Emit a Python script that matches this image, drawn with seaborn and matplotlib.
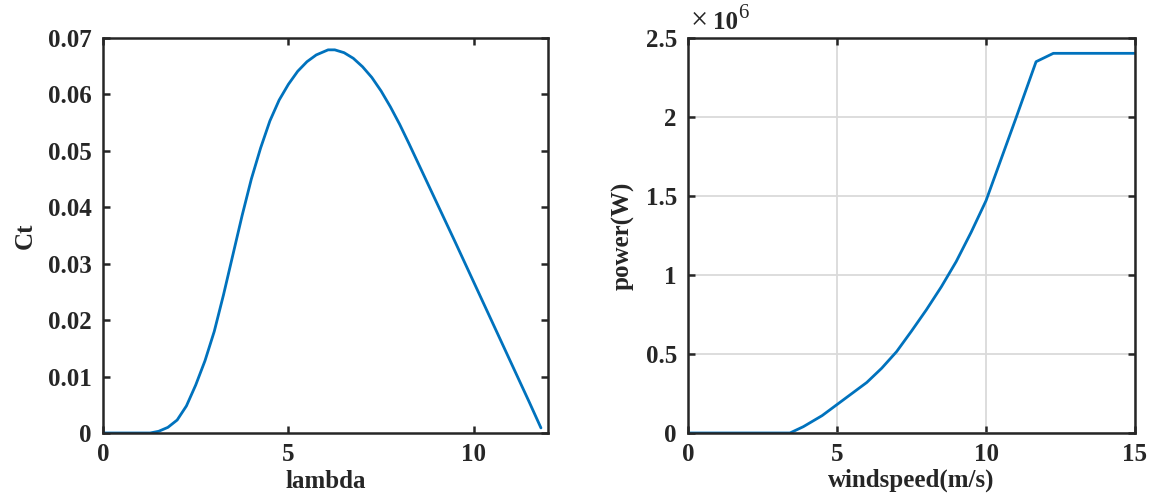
import matplotlib
matplotlib.use("Agg")
import matplotlib.pyplot as plt
import seaborn as sns
import pandas as pd
from matplotlib.ticker import FuncFormatter

# ---- data ----
lam = [0.0, 0.5, 1.0, 1.27, 1.5, 1.75, 2.0, 2.25, 2.5, 2.75, 3.0, 3.25, 3.5, 3.75,
       4.0, 4.25, 4.5, 4.75, 5.0, 5.25, 5.5, 5.75, 6.07, 6.25, 6.5, 6.75, 7.0, 7.25,
       7.5, 7.75, 8.0, 8.25, 8.5, 8.75, 9.0, 9.25, 9.5, 10.0, 10.5, 11.0, 11.5, 11.81]
ct = [0.0, 0.0, 0.0, 0.0, 0.0003, 0.0010, 0.0023, 0.0048, 0.0085, 0.0128, 0.0180,
      0.0245, 0.0315, 0.0385, 0.0450, 0.0505, 0.0553, 0.0590, 0.0618, 0.0641, 0.0658,
      0.0670, 0.0679, 0.0679, 0.0674, 0.0664, 0.0649, 0.0630, 0.0606, 0.0578, 0.0547,
      0.0513, 0.0478, 0.0443, 0.0408, 0.0373, 0.0338, 0.0267, 0.0196, 0.0125, 0.0054,
      0.0009]

windspeed = [0, 1, 2, 3, 3.42, 3.87, 4.5, 5, 5.5, 6, 6.5, 7, 7.5, 8, 8.5, 9, 9.5, 10,
             11, 11.68, 12.26, 13, 14, 15]
power = [0, 0, 0, 0, 0, 0.040e6, 0.11e6, 0.18e6, 0.25e6, 0.32e6, 0.41e6, 0.515e6,
         0.645e6, 0.78e6, 0.925e6, 1.085e6, 1.27e6, 1.47e6,
         1.99e6, 2.35e6, 2.403e6, 2.403e6, 2.403e6, 2.403e6]

left_xticks = [0, 5, 10]
left_yticks = [0, 0.01, 0.02, 0.03, 0.04, 0.05, 0.06, 0.07]
right_xticks = [0, 5, 10, 15]
right_yticks = [0, 0.5e6, 1.0e6, 1.5e6, 2.0e6, 2.5e6]

sns.set_theme(style="ticks")
plt.rcParams['font.family'] = ['Liberation Serif', 'DejaVu Serif']
plt.rcParams['font.weight'] = 'bold'

W, H = 1157, 497
fig = plt.figure(figsize=(W / 100, H / 100), dpi=100)
ax1 = fig.add_axes([103 / W, (H - 433) / H, 445 / W, 395 / H])
ax2 = fig.add_axes([688 / W, (H - 433) / H, 447 / W, 395 / H])

blue = '#0072BD'
dark = '#262626'
df1 = pd.DataFrame({'lambda': lam, 'Ct': ct})
df2 = pd.DataFrame({'windspeed': windspeed, 'power': power})
sns.lineplot(data=df1, x='lambda', y='Ct', ax=ax1, color=blue, linewidth=2.0)
sns.lineplot(data=df2, x='windspeed', y='power', ax=ax2, color=blue, linewidth=2.0)

fs = 18
gfmt = FuncFormatter(lambda v, p: '%g' % v)
for ax in (ax1, ax2):
    for s in ax.spines.values():
        s.set_linewidth(1.8)
        s.set_color(dark)
        s.set_visible(True)
    ax.tick_params(direction='in', length=5, width=1.8, top=True, right=True,
                   labelsize=fs, colors=dark)
    ax.tick_params(axis='x', pad=7)
    ax.tick_params(axis='y', pad=8)

ax1.set_xlim(0, 12)
ax1.set_ylim(0, 0.07)
ax1.set_xticks(left_xticks)
ax1.set_yticks(left_yticks)
ax1.xaxis.set_major_formatter(gfmt)
ax1.yaxis.set_major_formatter(gfmt)
ax1.set_xlabel('lambda', fontsize=fs, fontweight='bold', labelpad=3, color=dark)
ax1.set_ylabel('Ct', fontsize=fs, fontweight='bold', labelpad=8, color=dark)

ax2.set_xlim(0, 15)
ax2.set_ylim(0, 2.5e6)
ax2.set_xticks(right_xticks)
ax2.set_yticks(right_yticks)
ax2.xaxis.set_major_formatter(gfmt)
ax2.yaxis.set_major_formatter(FuncFormatter(lambda v, p: '%g' % (v / 1e6)))
ax2.grid(True, color='#dadada', linewidth=1.3)
ax2.set_axisbelow(True)
ax2.set_xlabel('windspeed(m/s)', fontsize=fs, fontweight='bold', labelpad=2, color=dark)
ax2.set_ylabel('power(W)', fontsize=fs, fontweight='bold', labelpad=8, color=dark)

# exponent label "x10^6" above the top-left corner of the right axes
ax2.annotate('\u00d7', xy=(0, 1), xycoords='axes fraction', xytext=(2, 2),
             textcoords='offset points', fontsize=fs + 4, fontweight='normal',
             ha='left', va='bottom', color=dark)
ax2.annotate('10', xy=(0, 1), xycoords='axes fraction', xytext=(18, 3),
             textcoords='offset points', fontsize=fs, fontweight='bold',
             ha='left', va='bottom', color=dark)
ax2.annotate('6', xy=(0, 1), xycoords='axes fraction', xytext=(36, 11),
             textcoords='offset points', fontsize=fs - 3, fontweight='normal',
             ha='left', va='bottom', color=dark)

fig.savefig('out.png', dpi=100)
